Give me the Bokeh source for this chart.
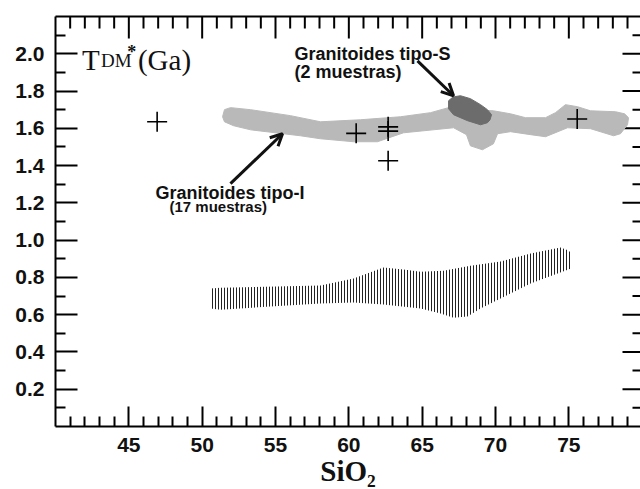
import math
from bokeh.plotting import figure
from bokeh.models import (FixedTicker, LinearAxis, NumeralTickFormatter, Arrow,
                          OpenHead, Label, Range1d)
from bokeh.embed import file_html
from bokeh.resources import INLINE

# ---------------- data ----------------
x_start, x_end = 40, 79.886
y_start, y_end = 0, 2.2
x_major = [45, 50, 55, 60, 65, 70, 75]
x_minor = [41, 42, 43, 44, 46, 47, 48, 49, 51, 52, 53, 54, 56, 57, 58, 59,
           61, 62, 63, 64, 66, 67, 68, 69, 71, 72, 73, 74, 76, 77, 78, 79]
y_major = [0.2, 0.4, 0.6, 0.8, 1.0, 1.2, 1.4, 1.6, 1.8, 2.0]
y_minor = [0.1, 0.3, 0.5, 0.7, 0.9, 1.1, 1.3, 1.5, 1.7, 1.9, 2.1]

# individual samples (crosses)
pts_sio2 = [46.93, 60.5, 62.68, 62.68, 62.68, 75.57]
pts_tdm = [1.635, 1.573, 1.608, 1.585, 1.426, 1.650]

# Granitoides tipo-I field (light grey band)
typeI_x = [51.39, 51.52, 51.93, 53.30, 56.02, 58.07, 60.80, 63.52, 65.57, 66.80,
           67.61, 69.86, 71.02, 72.05, 73.41, 74.09, 74.77, 75.59, 76.48, 78.18,
           78.80, 79.07,
           79.00, 78.52, 78.05, 76.48, 74.91, 73.41, 72.39, 71.02, 70.14, 69.86,
           69.11, 68.29, 68.02, 67.14, 63.73, 61.95, 60.32, 58.07, 56.70, 53.30,
           52.14, 51.52]
typeI_y = [1.662, 1.700, 1.711, 1.700, 1.668, 1.635, 1.646, 1.662, 1.684, 1.711,
           1.705, 1.694, 1.678, 1.657, 1.657, 1.684, 1.727, 1.716, 1.694, 1.689,
           1.678, 1.657,
           1.619, 1.571, 1.560, 1.598, 1.603, 1.555, 1.566, 1.582, 1.571, 1.517,
           1.485, 1.506, 1.566, 1.603, 1.576, 1.528, 1.528, 1.544, 1.560, 1.592,
           1.614, 1.635]

# Granitoides tipo-S field (dark blob)
typeS_x = [66.80, 67.10, 67.61, 68.29, 68.98, 69.45, 69.73, 69.62, 69.45, 68.98,
           68.09, 67.14, 66.80]
typeS_y = [1.748, 1.768, 1.775, 1.759, 1.727, 1.700, 1.673, 1.645, 1.630, 1.619,
           1.641, 1.673, 1.705]

# hatched field (lower band)
hatch_x = [50.57, 51.25, 58.07, 60.32, 62.36, 63.73, 64.89, 66.45, 68.29, 70.34,
           72.39, 74.43, 74.98, 75.11,
           75.11, 72.39, 68.98, 68.09, 67.14, 66.25, 64.89, 62.36, 60.32, 58.07,
           51.25, 50.57]
hatch_y = [0.740, 0.745, 0.756, 0.794, 0.853, 0.842, 0.831, 0.836, 0.863, 0.885,
           0.928, 0.960, 0.944, 0.933,
           0.847, 0.767, 0.633, 0.590, 0.584, 0.606, 0.633, 0.654, 0.665, 0.660,
           0.627, 0.633]

# ---------------- figure ----------------
p = figure(width=640, height=489, x_range=Range1d(x_start, x_end),
           y_range=Range1d(y_start, y_end),
           output_backend="svg", toolbar_location=None,
           min_border_left=55, min_border_right=0, min_border_top=16,
           min_border_bottom=63)
p.grid.visible = False
p.outline_line_color = None
p.background_fill_color = "white"
p.border_fill_color = "white"

def style_ticks(ax, major_in, minor_in):
    ax.major_tick_in = major_in
    ax.major_tick_out = 0
    ax.minor_tick_in = minor_in
    ax.minor_tick_out = 0
    ax.major_tick_line_width = 2
    ax.minor_tick_line_width = 2
    ax.major_tick_line_color = "black"
    ax.minor_tick_line_color = "black"
    ax.axis_line_width = 2
    ax.axis_line_color = "black"
    ax.major_label_standoff = 0
    ax.axis_label_standoff = 0

# bottom / left axes with labels
p.xaxis.ticker = FixedTicker(ticks=x_major, minor_ticks=x_minor)
p.yaxis.ticker = FixedTicker(ticks=y_major, minor_ticks=y_minor)
p.yaxis.formatter = NumeralTickFormatter(format="0.0")
style_ticks(p.xaxis[0], 20, 10)
style_ticks(p.yaxis[0], 22, 10)
for ax in (p.xaxis[0], p.yaxis[0]):
    ax.major_label_text_font = "Liberation Sans"
    ax.major_label_text_font_style = "bold"
    ax.major_label_text_font_size = "21px"
    ax.major_label_text_color = "#111111"
p.xaxis.major_label_standoff = 11
p.yaxis.major_label_standoff = 11
p.xaxis.axis_label = "SiO\u2082"
p.xaxis.axis_label_text_font = "Liberation Serif"
p.xaxis.axis_label_text_font_style = "bold"
p.xaxis.axis_label_text_font_size = "29px"
p.xaxis.axis_label_text_color = "#111111"
p.xaxis.axis_label_standoff = 0

# top border line (no ticks of its own)
top_line = LinearAxis(ticker=FixedTicker(ticks=[], minor_ticks=[]))
style_ticks(top_line, 0, 0)
p.add_layout(top_line, "above")

# inward tick marks on top and right edges (half of each dash lies outside the frame
# and is clipped away)
p.scatter(x_minor, [y_end] * len(x_minor), marker="dash", angle=math.pi / 2,
          size=24, line_color="black", line_width=2)
p.scatter(x_major, [y_end] * len(x_major), marker="dash", angle=math.pi / 2,
          size=44, line_color="black", line_width=2)
p.scatter([x_end] * len(y_minor), y_minor, marker="dash",
          size=16, line_color="black", line_width=2)
p.scatter([x_end] * len(y_major), y_major, marker="dash",
          size=36, line_color="black", line_width=2)

# fields
p.patch(typeI_x, typeI_y, fill_color="#b9b9b9", line_color="#b9b9b9", line_width=1)
p.patch(typeS_x, typeS_y, fill_color="#6c6c6c", line_color="#6c6c6c", line_width=1)
p.patch(hatch_x, hatch_y, fill_color=None, line_color=None,
        hatch_pattern="|", hatch_color="#222222", hatch_scale=3, hatch_weight=1)

# samples
p.scatter(pts_sio2, pts_tdm, marker="cross", size=20, line_color="black", line_width=1.6)

# annotations
def lbl(x, y, text, size, font="Liberation Sans", bold=True, align="left"):
    p.add_layout(Label(x=x, y=y, text=text, text_font=font,
                       text_font_style="bold" if bold else "normal",
                       text_font_size=size, text_color="#111111",
                       text_align=align, text_baseline="alphabetic"))

lbl(56.30, 2.0, "Granitoides tipo-S", "18px")
lbl(56.30, 1.903, "(2 muestras)", "18px")
lbl(46.82, 1.255, "Granitoides tipo-I", "18px")
lbl(47.77, 1.180, "(17 muestras)", "15px")

lbl(41.80, 1.965, "T", "29px", font="Liberation Serif", bold=False)
lbl(43.10, 1.965, "DM", "19px", font="Liberation Serif", bold=False)
lbl(45.20, 2.010, "*", "18px", font="Liberation Serif", bold=True, align="center")
lbl(45.62, 1.965, "(Ga)", "29px", font="Liberation Serif", bold=False)

p.add_layout(Arrow(end=OpenHead(size=12, line_width=3, line_color="#111111"),
                   x_start=64.68, y_start=1.962, x_end=67.14, y_end=1.775,
                   line_width=3, line_color="#111111"))
p.add_layout(Arrow(end=OpenHead(size=12, line_width=3, line_color="#111111"),
                   x_start=51.93, y_start=1.303, x_end=55.48, y_end=1.571,
                   line_width=3, line_color="#111111"))

open("out.html", "w").write(file_html(p, INLINE))
